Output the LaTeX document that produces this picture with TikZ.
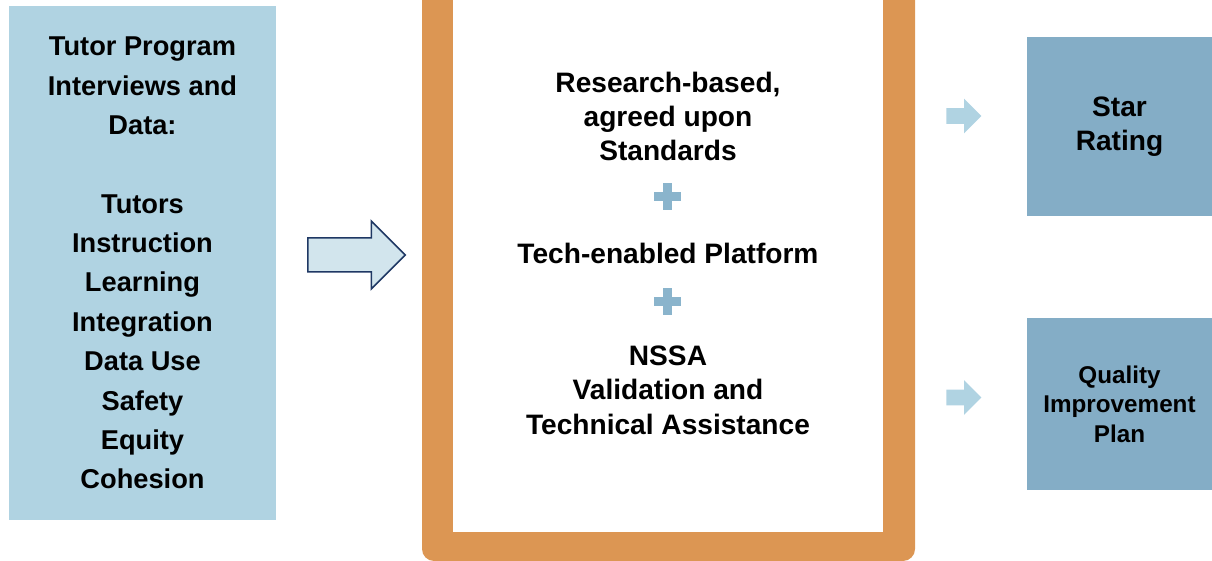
\documentclass[tikz,border=0pt]{standalone}
\usepackage{fontspec}
\setmainfont{Liberation Sans}
\usepackage{xcolor}
\usetikzlibrary{shapes.arrows}

\definecolor{paleblue}{HTML}{B0D3E2}
\definecolor{steelblue}{HTML}{84ADC6}
\definecolor{plusblue}{HTML}{8AB4CC}
\definecolor{frameorange}{HTML}{DC9653}
\definecolor{arrowfill}{HTML}{D2E5ED}
\definecolor{arrowline}{HTML}{1F3864}

\begin{document}
\begin{tikzpicture}[x=0.2mm,y=-0.2mm]
    % Define styles
    \tikzstyle{inputbox} = [rectangle, minimum width=53.4mm, minimum height=102.8mm, inner sep=0pt, fill=paleblue, text centered, align=center, font=\bfseries\fontsize{15.5}{22.4}\selectfont]
    \tikzstyle{midtext} = [align=center, inner sep=0pt, font=\bfseries\fontsize{16}{19.6}\selectfont]
    \tikzstyle{plussign} = [minimum size=5.4mm, inner sep=0pt, path picture={
        \fill[plusblue] ([shift={(-0.9mm,-2.7mm)}]path picture bounding box.center) rectangle ([shift={(0.9mm,2.7mm)}]path picture bounding box.center);
        \fill[plusblue] ([shift={(-2.7mm,-0.9mm)}]path picture bounding box.center) rectangle ([shift={(2.7mm,0.9mm)}]path picture bounding box.center);}]
    \tikzstyle{outputbox} = [rectangle, minimum width=37mm, inner sep=0pt, fill=steelblue, text centered, align=center]
    \tikzstyle{bigarrow} = [single arrow, anchor=tail, single arrow head extend=3.4mm, minimum width=13.3mm, minimum height=19.5mm, inner xsep=0pt, inner ysep=3.25mm, fill=arrowfill, draw=arrowline, line width=0.3mm]
    \tikzstyle{smallarrow} = [single arrow, anchor=tail, single arrow head extend=1.9mm, minimum width=6.8mm, minimum height=7mm, inner xsep=0pt, inner ysep=1.5mm, fill=paleblue]

    \useasboundingbox (0,0) rectangle (1212,561);
    \clip (0,0) rectangle (1212,561);

    % Frame
    \fill[frameorange, rounded corners=2.4mm] (422,-30) rectangle (915,561);
    \fill[white] (453,-30) rectangle (883,532);

    % Nodes
    \node (input) [inputbox] at (142.5,263) {Tutor Program\\Interviews and\\Data:\\~\\Tutors\\Instruction\\Learning\\Integration\\Data Use\\Safety\\Equity\\Cohesion};

    \node (standards) [midtext] at (668,116.5) {Research-based,\\agreed upon\\Standards};
    \node (plus1) [plussign] at (667.5,197) {};
    \node (platform) [midtext] at (668,253) {Tech-enabled Platform};
    \node (plus2) [plussign] at (667.5,301.5) {};
    \node (nssa) [midtext] at (668,390) {NSSA\\Validation and\\Technical Assistance};

    \node (rating) [outputbox, minimum height=35.8mm, font=\bfseries\fontsize{16}{19.3}\selectfont] at (1119.5,126.5) {Star\\Rating};
    \node (plan) [outputbox, minimum height=34.4mm, font=\bfseries\fontsize{13.8}{16.7}\selectfont] at (1119.5,404) {Quality\\Improvement\\Plan};

    % Arrows
    \node (inarrow) [bigarrow] at (307,255) {};
    \node (ratingarrow) [smallarrow] at (946,116) {};
    \node (planarrow) [smallarrow] at (946,397.5) {};
\end{tikzpicture}
\end{document}
